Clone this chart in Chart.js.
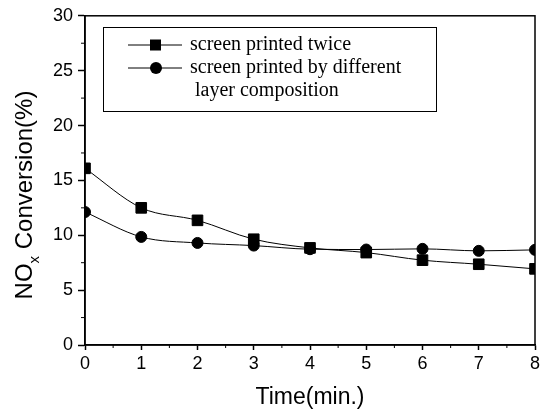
<!DOCTYPE html>
<html>
<head>
<meta charset="utf-8">
<script src="https://cdn.jsdelivr.net/npm/chart.js@4"></script>
<style>
  body { margin: 0; background: #fff; }
</style>
</head>
<body>
<canvas id="chart" width="545" height="415"></canvas>
<script>
// time in minutes
const times = [0, 1, 2, 3, 4, 5, 6, 7, 8];
// NOx conversion (%)
const printedTwice = [16.1, 12.5, 11.36, 9.64, 8.85, 8.42, 7.73, 7.36, 6.94];
const diffLayers = [12.12, 9.85, 9.3, 9.06, 8.73, 8.7, 8.76, 8.58, 8.67];
const legendLines = [['screen printed twice'], ['screen printed by different', ' layer composition']];
const xMinorTicks = [0.5, 1.5, 2.5, 3.5, 4.5, 5.5, 6.5, 7.5];
const yMinorTicks = [2.5, 7.5, 12.5, 17.5, 22.5, 27.5];

const sans = 'Liberation Sans, Arial, sans-serif';
const serif = 'Liberation Serif, Times New Roman, serif';

function pts(ys) {
    return times.map((t, i) => ({x: t, y: ys[i]}));
}

// box, minor ticks, legend and the y title with subscript
const extras = {
    id: 'extras',
    afterDraw(chart) {
        const ctx = chart.ctx;
        const a = chart.chartArea;
        const xs = chart.scales.x, ys = chart.scales.y;
        ctx.save();
        ctx.strokeStyle = '#000';
        ctx.lineWidth = 1.5;
        ctx.strokeRect(a.left, a.top, a.right - a.left, a.bottom - a.top);

        ctx.lineWidth = 1;
        ctx.beginPath();
        xMinorTicks.forEach(v => {
            const px = xs.getPixelForValue(v);
            ctx.moveTo(px, a.bottom);
            ctx.lineTo(px, a.bottom + 3);
        });
        yMinorTicks.forEach(v => {
            const py = ys.getPixelForValue(v);
            ctx.moveTo(a.left, py);
            ctx.lineTo(a.left - 4, py);
        });
        ctx.stroke();

        // legend
        ctx.strokeRect(103.5, 27.5, 333, 84);
        const rows = [45, 68];
        chart.data.datasets.forEach((ds, i) => {
            const y = rows[i];
            ctx.beginPath();
            ctx.moveTo(128, y);
            ctx.lineTo(182, y);
            ctx.stroke();
            ctx.fillStyle = '#000';
            if (ds.pointStyle === 'rect') {
                ctx.fillRect(150, y - 5.5, 11, 11);
            } else {
                ctx.beginPath();
                ctx.arc(156, y, 6, 0, Math.PI * 2);
                ctx.fill();
            }
            ctx.font = '20px ' + serif;
            ctx.textBaseline = 'middle';
            legendLines[i].forEach((t, j) => {
                ctx.fillText(t, 190, y + j * 23);
            });
        });

        // y axis title
        ctx.translate(32, 195);
        ctx.rotate(-Math.PI / 2);
        ctx.textBaseline = 'alphabetic';
        ctx.font = '24px ' + sans;
        const w1 = ctx.measureText('NO').width;
        const w3 = ctx.measureText(' Conversion(%)').width;
        ctx.font = '15px ' + sans;
        const w2 = ctx.measureText('x').width;
        let x0 = -(w1 + w2 + w3) / 2;
        ctx.font = '24px ' + sans;
        ctx.fillText('NO', x0, 0);
        ctx.font = '15px ' + sans;
        ctx.fillText('x', x0 + w1, 7);
        ctx.font = '24px ' + sans;
        ctx.fillText(' Conversion(%)', x0 + w1 + w2, 0);
        ctx.restore();
    }
};

const canvas = document.getElementById('chart');
var ctx = canvas.getContext('2d');
new Chart(ctx, {
    type: 'line',
    data: {
        datasets: [{
            label: 'screen printed twice',
            data: pts(printedTwice),
            borderColor: '#000',
            backgroundColor: '#000',
            borderWidth: 1,
            pointStyle: 'rect',
            pointRadius: 7.5,
            cubicInterpolationMode: 'monotone'
        }, {
            label: 'screen printed by different layer composition',
            data: pts(diffLayers),
            borderColor: '#000',
            backgroundColor: '#000',
            borderWidth: 1,
            pointStyle: 'circle',
            pointRadius: 5.5,
            cubicInterpolationMode: 'monotone'
        }]
    },
    options: {
        responsive: false,
        animation: false,
        devicePixelRatio: 1,
        layout: { padding: { top: 15, right: 10, left: 0, bottom: 0 } },
        plugins: {
            legend: { display: false },
            tooltip: { enabled: false }
        },
        scales: {
            x: {
                type: 'linear',
                min: 0,
                max: 8,
                ticks: { stepSize: 1, color: '#000', padding: 3, font: { family: sans, size: 18 } },
                grid: { drawOnChartArea: false, tickLength: 5, color: '#000', tickWidth: 1.5 },
                border: { color: '#000', width: 1.5 },
                title: {
                    display: true,
                    text: 'Time(min.)',
                    color: '#000',
                    font: { family: sans, size: 23 },
                    padding: { top: 0, bottom: 4 }
                },
                afterFit: s => { s.height = 70; }
            },
            y: {
                min: 0,
                max: 30,
                ticks: { stepSize: 5, color: '#000', padding: 5, font: { family: sans, size: 18 } },
                grid: { drawOnChartArea: false, tickLength: 7, color: '#000', tickWidth: 1.5 },
                border: { color: '#000', width: 1.5 },
                afterFit: s => { s.width = 85; }
            }
        }
    },
    plugins: [extras]
});
</script>
</body>
</html>
